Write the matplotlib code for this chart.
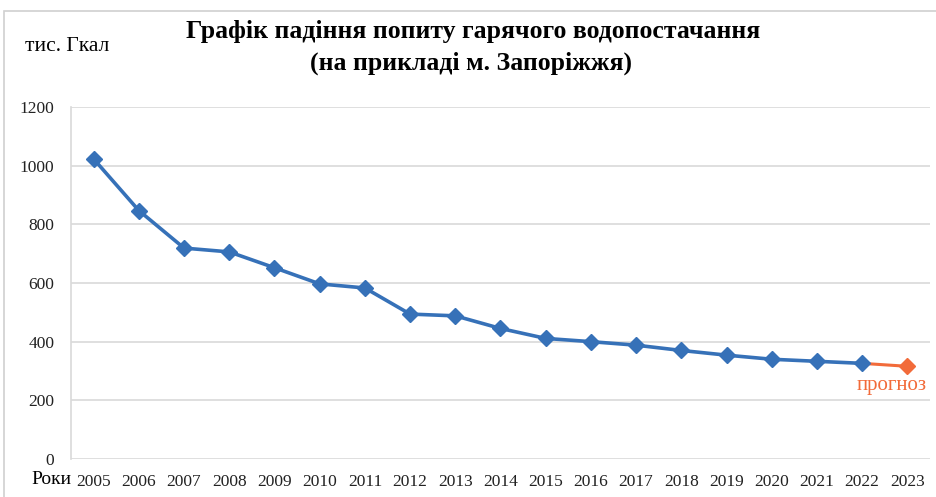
import numpy as np
import matplotlib
matplotlib.use('Agg')
import matplotlib.pyplot as plt
from matplotlib.patches import Rectangle

plt.rcParams['font.family'] = ['Liberation Serif', 'DejaVu Serif']

# data (тис. Гкал)
years = ['2005', '2006', '2007', '2008', '2009', '2010', '2011', '2012', '2013', '2014',
         '2015', '2016', '2017', '2018', '2019', '2020', '2021', '2022', '2023']
actual = [1023, 847, 719, 706, 652, 597, 583, 494, 488, 445,
          411, 400, 388, 370, 354, 340, 333, 326]
forecast = [326, 316]  # 2022 -> 2023

blue = '#3671B8'
orange = '#F26B3A'

fig = plt.figure(figsize=(9.37, 4.97), dpi=100)
ax = fig.add_axes([0.0758, 0.0765, 0.9167, 0.7082])

x = np.arange(len(years))
ax.plot(x[:len(actual)], actual, color=blue, lw=2.6, marker='D', ms=8,
        solid_joinstyle='round', zorder=3)
ax.plot(x[len(actual) - 1:], forecast, color=orange, lw=2.2, zorder=2)
ax.plot(x[-1], forecast[-1], color=orange, marker='D', ms=8, ls='none', zorder=3)
ax.text(17.65, 250, 'прогноз', color=orange, fontsize=15,
        ha='center', va='center')

ax.set_xlim(-0.5, len(years) - 0.5)
ax.set_ylim(0, 1200)
ax.set_yticks(range(0, 1201, 200))
ax.set_xticks(x)
ax.set_xticklabels(years)
ax.grid(axis='y', color='#D9D9D9', lw=1.2)
ax.set_axisbelow(True)
for s in ['top', 'right', 'bottom']:
    ax.spines[s].set_visible(False)
ax.spines['left'].set_color('#D9D9D9')
ax.spines['left'].set_linewidth(1.2)
ax.tick_params(length=0, labelsize=12.5, colors='#222222')
ax.tick_params(axis='y', pad=12)
ax.tick_params(axis='x', pad=11)

fig.text(0.505, 0.937, 'Графік падіння попиту гарячого водопостачання', ha='center',
         va='center', fontsize=18.5, fontweight='bold')
fig.text(0.503, 0.873, '(на прикладі м. Запоріжжя)', ha='center', va='center',
         fontsize=18.5, fontweight='bold')
fig.text(0.027, 0.907, 'тис. Гкал', ha='left', va='center', fontsize=15.5)
fig.text(0.033, 0.036, 'Роки', ha='left', va='center', fontsize=14)

# light frame round the chart
fig.patches.append(Rectangle((4 / 937, -0.1), 1.2, 1 - 11 / 497 + 0.1,
                             transform=fig.transFigure, fill=False,
                             edgecolor='#D0D0D0', lw=1.2))

fig.savefig('out.png', dpi=100)
